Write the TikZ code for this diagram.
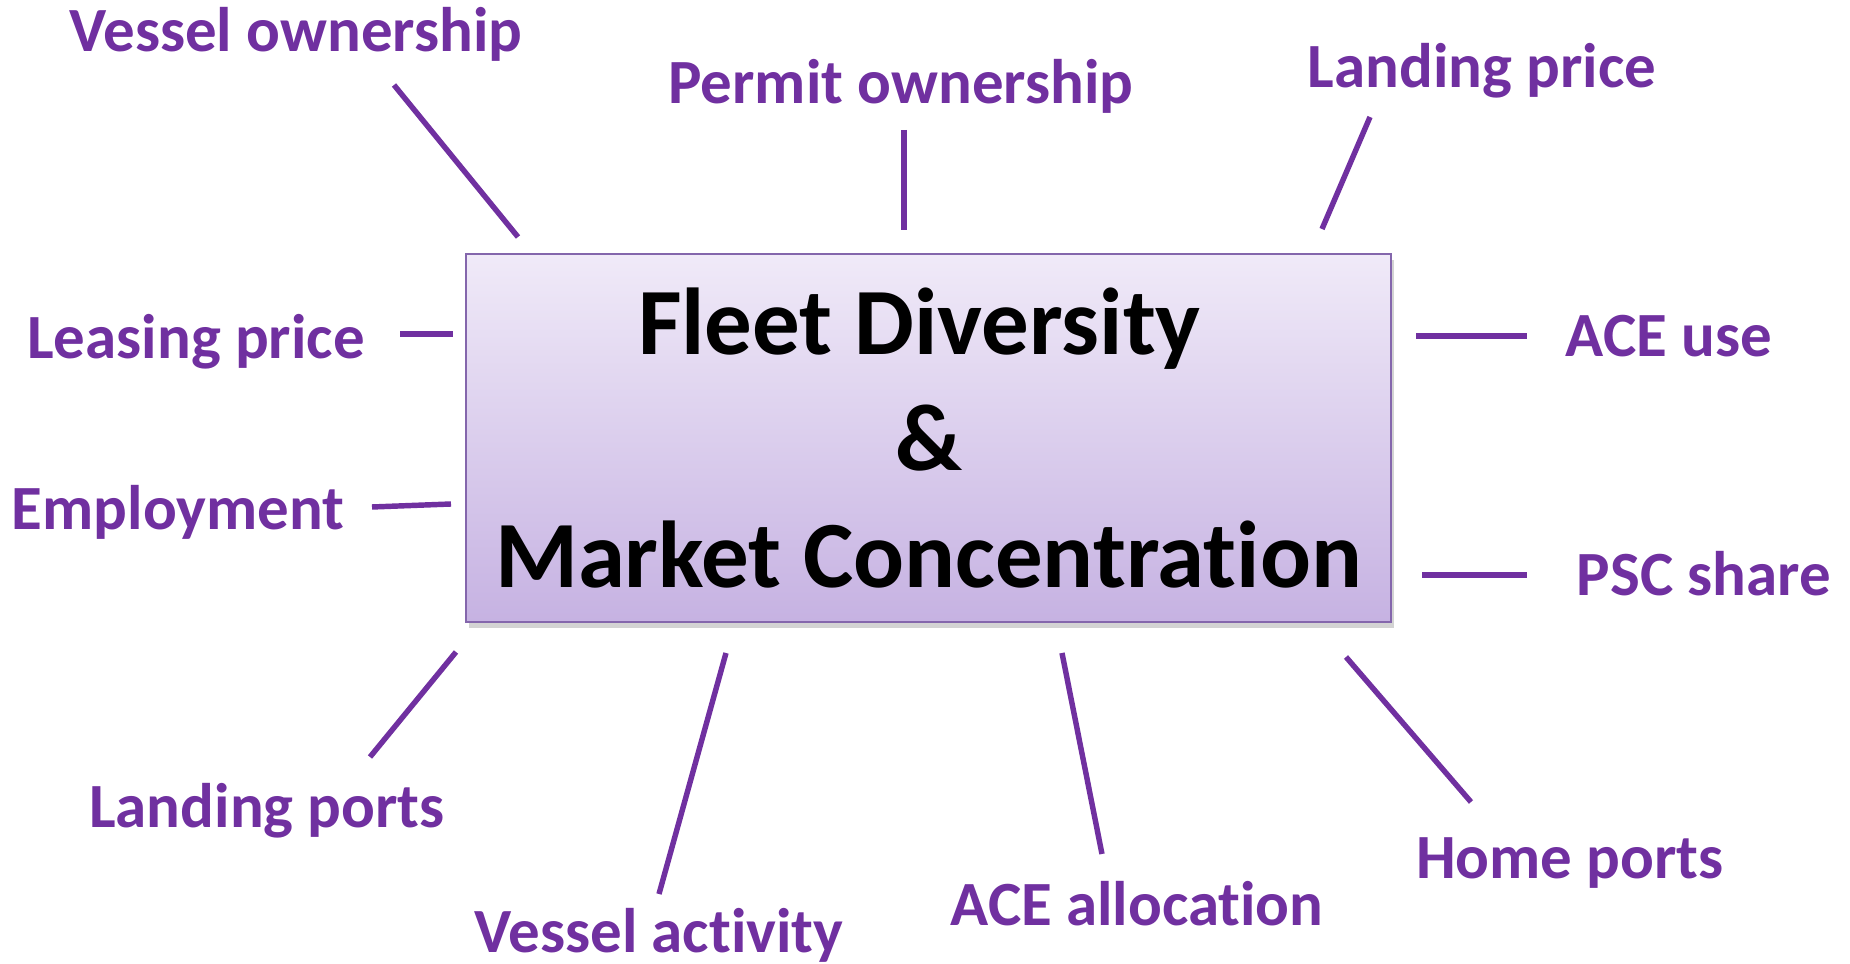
\documentclass[tikz,border=0pt]{standalone}
\usepackage{fontspec}
\setmainfont{Carlito}[Ligatures={NoCommon,NoRare}]
\usetikzlibrary{shadows}
\definecolor{lbl}{HTML}{7030A0}
\definecolor{boxtop}{HTML}{F0EAF8}
\definecolor{boxbot}{HTML}{C6B2E2}
\definecolor{boxedge}{HTML}{8466AC}
\begin{document}
\begin{tikzpicture}[x=0.01cm,y=-0.01cm,
  lab/.style={text=lbl,font=\fontsize{17.9}{21}\selectfont\bfseries,anchor=base,inner sep=0pt},
  conn/.style={draw=lbl,line width=1.55pt},
  mainbox/.style={draw=boxedge,line width=0.6pt,top color=boxtop,bottom color=boxbot,
    inner sep=0pt,
    drop shadow={shadow xshift=0.8pt,shadow yshift=-1.6pt,opacity=0.35},
    align=center,font=\fontsize{27}{33}\selectfont\bfseries}]
\useasboundingbox (0,0) rectangle (1850,964);
\node[mainbox,minimum width=9.25cm,minimum height=3.68cm] (box) at (928.5,438)
  {Fleet Diversity\hspace*{0.18cm}\\\&\\Market Concentration};
% labels
\node[lab] (vo) at (296,52) {Vessel ownership};
\node[lab] (po) at (901,104) {Permit ownership};
\node[lab] (lp) at (1482,88) {Landing price};
\node[lab] (lease) at (196,359) {Leasing price};
\node[lab] (au) at (1669,357) {ACE use};
\node[lab] (emp) at (178,530) {Employment};
\node[lab] (psc) at (1704,596) {PSC share};
\node[lab] (lpo) at (267,828) {Landing ports};
\node[lab] (va) at (659,953) {Vessel activity};
\node[lab] (aa) at (1137,926) {ACE allocation};
\node[lab] (hp) at (1570,879) {Home ports};
% connector ends
\coordinate (vo1) at (394,85);   \coordinate (vo2) at (518,237);
\coordinate (po1) at (904,130);  \coordinate (po2) at (904,230);
\coordinate (lp1) at (1370,117); \coordinate (lp2) at (1322,229);
\coordinate (au1) at (1416,336); \coordinate (au2) at (1527,336);
\coordinate (ps1) at (1422,575); \coordinate (ps2) at (1527,575);
\coordinate (le1) at (400,334);  \coordinate (le2) at (453,334);
\coordinate (em1) at (372,507);  \coordinate (em2) at (451,504);
\coordinate (lo1) at (456,652);  \coordinate (lo2) at (370,757);
\coordinate (va1) at (726,653);  \coordinate (va2) at (659,894);
\coordinate (aa1) at (1062,653); \coordinate (aa2) at (1102,854);
\coordinate (hp1) at (1346,657); \coordinate (hp2) at (1471,802);
\draw[conn] (vo1) -- (vo2);
\draw[conn] (po1) -- (po2);
\draw[conn] (lp1) -- (lp2);
\draw[conn] (au1) -- (au2);
\draw[conn] (ps1) -- (ps2);
\draw[conn] (le1) -- (le2);
\draw[conn] (em1) -- (em2);
\draw[conn] (lo1) -- (lo2);
\draw[conn] (va1) -- (va2);
\draw[conn] (aa1) -- (aa2);
\draw[conn] (hp1) -- (hp2);
\end{tikzpicture}
\end{document}
